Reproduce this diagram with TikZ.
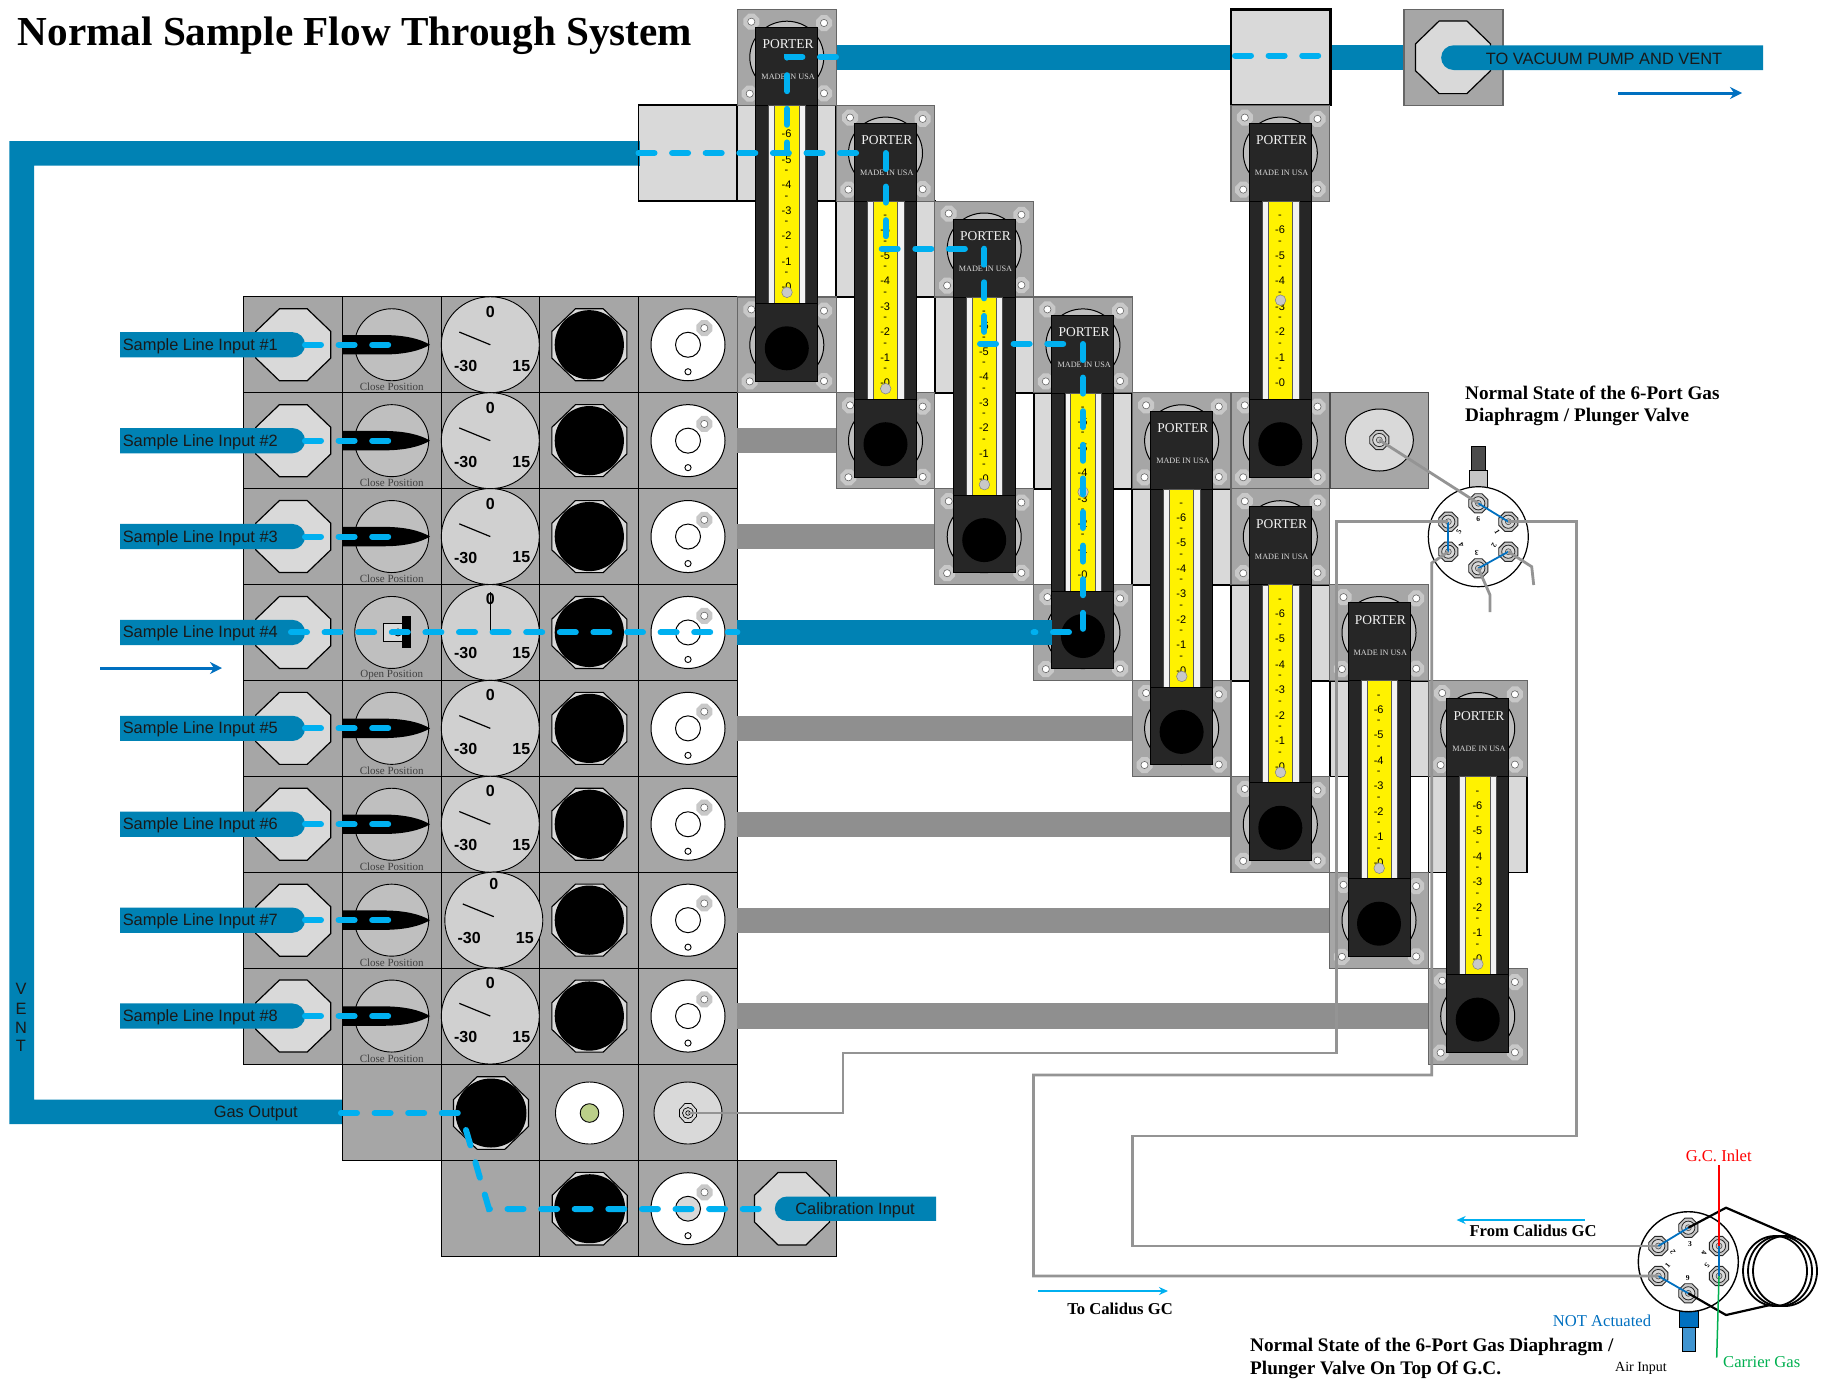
\documentclass[tikz,border=0pt]{standalone}
\usepackage{fontspec}
\setmainfont{Liberation Serif}
\setsansfont{Liberation Sans}
\usetikzlibrary{arrows.meta}
\definecolor{pipeblue}{HTML}{0082B4}
\definecolor{dashblue}{HTML}{00B0F0}
\definecolor{panelgrey}{HTML}{A6A6A6}
\definecolor{lightgrey}{HTML}{D9D9D9}
\definecolor{barcol}{HTML}{8F8F8F}
\definecolor{linegrey}{HTML}{949494}
\definecolor{bodydark}{HTML}{262626}
\definecolor{lineblue}{HTML}{0070C0}
\definecolor{knob}{HTML}{BFBFBF}
\definecolor{dialgrey}{HTML}{D0D0D0}
\definecolor{boltgrey}{HTML}{C8C8C8}
\definecolor{okgreen}{HTML}{00B050}
\definecolor{seedgreen}{HTML}{BBCF89}
\tikzset{
  cellbox/.style={fill=panelgrey,draw=black,line width=1pt},
  mpanel/.style={fill=panelgrey,draw=black!60,line width=1.1pt},
  lightbox/.style={fill=lightgrey,draw=black,line width=1.8pt},
  flow/.style={draw=dashblue,line width=6pt,line cap=round,line join=miter,dash pattern=on 16pt off 17.6pt},
  pipefill/.style={fill=pipeblue,draw=none},
  tubeline/.style={draw=linegrey,line width=2.8pt,line join=miter},
  conn/.style={draw=lineblue,line width=1.8pt},
  sflabel/.style={inner sep=0pt,yshift=-1.2pt,font=\sffamily\fontsize{16.4}{18}\selectfont,text=black!90},
  dialtext/.style={inner sep=0pt,font=\sffamily\bfseries\fontsize{16}{18}\selectfont},
  postext/.style={inner sep=0pt,text=black!75,font=\fontsize{11}{12}\selectfont},
  scaletext/.style={inner sep=0pt,yshift=-.8pt,font=\sffamily\fontsize{11}{12}\selectfont},
  boldtext/.style={inner sep=0pt,anchor=west,font=\bfseries\fontsize{19.2}{21}\selectfont},
  portnum/.style={inner sep=0pt,font=\bfseries\fontsize{7.5}{8}\selectfont},
}
% octagon: centre x, y, half width, half height
\newcommand{\octa}[5][]{%
  \pgfmathsetmacro\ox{#4*0.37}\pgfmathsetmacro\oy{#5*0.37}%
  \path[#1] ({#2-\ox},{#3-#5}) -- ({#2+\ox},{#3-#5}) -- ({#2+#4},{#3-\oy}) -- ({#2+#4},{#3+\oy}) -- ({#2+\ox},{#3+#5}) -- ({#2-\ox},{#3+#5}) -- ({#2-#4},{#3+\oy}) -- ({#2-#4},{#3-\oy}) -- cycle;}
\newcommand{\boltat}[2]{%
  \octa[fill=boltgrey]{#1}{#2}{8}{8}%
  \path[fill=white,draw=black!60,line width=.6pt] (#1,#2) circle[radius=3.6];}
\newcommand{\gasnut}[2]{%
  \octa[fill=boltgrey,draw=black!85,line width=.9pt]{#1}{#2}{9.6}{9.6}%
  \path[fill=lightgrey,draw=black!85,line width=.8pt] (#1,#2) circle[radius=6.6];%
  \path[fill=boltgrey,draw=black!70,line width=.6pt] (#1,#2) circle[radius=3];}
\newcommand{\plate}{%
  \path[fill=knob,draw=black,line width=1pt] (49.3,47.9) ellipse[x radius=37,y radius=36];%
  \boltat{13.8}{12.4}\boltat{86.5}{13.7}\boltat{12.2}{84.4}\boltat{86.5}{84}}
% id, left, top, ball position
\newcommand{\meter}[4]{%
\begin{scope}[shift={(#2,#3)}]
  \path[mpanel] (0,0) rectangle (98.7,95.9);
  \begin{scope}\plate\end{scope}
  \path[mpanel] (0,287.7) rectangle (98.7,383.6);
  \begin{scope}[shift={(0,287.7)}]\plate\end{scope}
  \path[fill=bodydark,draw=black,line width=.8pt] (18.2,18) rectangle (80.2,96);
  \path[fill=bodydark,draw=black,line width=.8pt] (18.2,96) rectangle (31.2,294);
  \path[fill=bodydark,draw=black,line width=.8pt] (67.8,96) rectangle (80.2,294);
  \path[fill=black!5,draw=black!70,line width=.5pt] (31.2,96) rectangle (67.8,294);
  \path[fill=yellow,draw=black!65,line width=.8pt] (37.2,96) rectangle (61.5,294);
  \path[fill=bodydark,draw=black,line width=.8pt] (18.2,294) rectangle (80.2,371.7);
  \path[fill=black] (49.3,339) circle[radius=22];
  \node[inner sep=0pt,text=white!95!black,font=\fontsize{13.5}{15}\selectfont] (por#1) at (50.6,35) {PORTER};
  \node[inner sep=0pt,text=white!85!black,font=\fontsize{8.2}{10}\selectfont] (mus#1) at (50.6,67.8) {MADE IN USA};
  \foreach \i in {0,...,6}{
    \pgfmathsetmacro\ya{111+25.5*\i}\pgfmathsetmacro\yb{124+25.5*\i}\pgfmathtruncatemacro\lab{6-\i}
    \node[scaletext] (tk#1x\i) at (49,\ya) {-};
    \node[scaletext] (lb#1x\i) at (49,\yb) {-\lab};
  }
  \path[fill=boltgrey,draw=black!50,line width=.5pt] (49.5,#4) circle[radius=5.3];
\end{scope}}
\begin{document}
\begin{tikzpicture}[x=1pt,y=-1pt]
\path[use as bounding box,fill=white] (0,0) rectangle (1827,1379);

% vent pipe
\path[pipefill] (9.3,141) -- (638.5,141) -- (638.5,165.5) -- (34,165.5) -- (34,1099.5) -- (342.4,1099.5) -- (342.4,1124) -- (9.3,1124) -- cycle;
\node[sflabel] (vV) at (21,987.3) {V};
\node[sflabel] (vE) at (21,1008) {E};
\node[sflabel] (vN) at (21,1026.7) {N};
\node[sflabel] (vT) at (21,1045) {T};
\node[sflabel] (gasout) at (255.8,1112.5) {Gas Output};

% rows
\foreach \k in {0,...,7}{
  \pgfmathsetmacro\yc{344.75+95.9*\k}
  \pgfmathtruncatemacro\n{\k+1}
  \pgfmathsetmacro\dx{\k==6?3.5:0}
  \pgfmathsetmacro\dy{\k==6?-3.5:0}
  \begin{scope}[shift={(0,\yc)}]
    \foreach \xa/\xb in {243.5/342.4,342.4/441,441/539.7,539.7/638.6,638.6/737.4}
      \path[cellbox] (\xa,-47.95) rectangle (\xb,47.95);
    \octa[fill=lightgrey,draw=black,line width=1.2pt]{293.3}{0}{37.5}{36}
    % valve knob
    \path[fill=knob,draw=black,line width=.9pt] (391.7,0) ellipse[x radius=37,y radius=36];
    \ifnum\k=3
      \path[fill=lightgrey,draw=black,line width=.9pt] (383.7,-9) rectangle (402,9);
      \path[fill=black] (402,-16) rectangle (411,16);
      \path[fill=lightgrey,draw=black,line width=.8pt] (398,0) circle[radius=3.5];
      \node[postext] (pos\n) at (391.7,42.2) {Open Position};
    \else
      \path[fill=black] (342.4,-9.7) -- (385,-9.7) .. controls (405,-9.5) and (420,-6) .. (430,0) .. controls (420,6) and (405,9.5) .. (385,9.7) -- (342.4,9.7) -- cycle;
      \node[postext] (pos\n) at (391.7,42.2) {Close Position};
    \fi
    % gauge
    \path[fill=dialgrey,draw=black,line width=.9pt] ({490.3+\dx},0) ellipse[x radius=49,y radius=48];
    \node[dialtext] (dz\n) at ({490.3+\dx},{-33+\dy}) {0};
    \node[dialtext] (dm\n) at ({465.7+\dx},{21+\dy}) {-30};
    \node[dialtext] (dp\n) at ({521.3+\dx},{21+\dy}) {15};
    \ifnum\k=3
      \draw[line width=1.2pt] (490.3,0) -- (490.3,-40);
    \else
      \draw[line width=1.2pt] ({490.3+\dx},{\dy}) -- ({459.3+\dx},{-12.7+\dy});
    \fi
    % black filter
    \octa[fill=lightgrey,draw=black,line width=1.1pt]{589.3}{0}{37.5}{36}
    \path[fill=black] (589.3,0) circle[radius=34.6];
    % white valve
    \path[fill=white,draw=black,line width=1pt] (688,0) ellipse[x radius=37,y radius=36];
    \path[fill=white,draw=black,line width=1pt] (688,0) circle[radius=12.5];
    \path[fill=white,draw=black,line width=.9pt] (688,27) circle[radius=3.1];
    \boltat{704.3}{-16.7}
    % input label
    \path[pipefill] (120,-12.6) -- (292.5,-12.6) arc[start angle=-90,end angle=90,radius=12.6] -- (120,12.6) -- cycle;
    \node[sflabel,anchor=west] (inp\n) at (122.6,0) {Sample Line Input \#\n};
  \end{scope}
}

% grey bars
\foreach \k/\xe in {1/836.2,2/934.9,4/1132.3,5/1231,6/1329.7,7/1428.4}{
  \pgfmathsetmacro\yc{344.75+95.9*\k}
  \path[fill=barcol] (737.4,{\yc-12.6}) rectangle (\xe,{\yc+12.6});
}

% gas output row
\foreach \xa/\xb in {342.4/441,441/539.7,539.7/638.6,638.6/737.4}
  \path[cellbox] (\xa,1064) rectangle (\xb,1160);
\octa[fill=lightgrey,draw=black,line width=1.1pt]{491}{1113}{37.5}{36.3}
\path[fill=black] (491,1113) ellipse[x radius=35.5,y radius=34.5];
\path[fill=white,draw=black,line width=.9pt] (589.5,1113) ellipse[x radius=34,y radius=31];
\path[fill=seedgreen,draw=black,line width=.9pt] (589.5,1113) circle[radius=9.3];
\path[fill=lightgrey,draw=black,line width=.9pt] (688,1113) ellipse[x radius=34,y radius=31];
\octa[draw=black,line width=.7pt]{688}{1113}{8.5}{9.5}
\path[draw=black,line width=.7pt] (688,1113) circle[radius=5.5];
\path[draw=black,line width=.7pt] (688,1113) circle[radius=2.3];

% calibration row
\foreach \xa/\xb in {441/539.7,539.7/638.6,638.6/737.4,737.4/836.4}
  \path[cellbox] (\xa,1160) rectangle (\xb,1256.5);
\octa[fill=lightgrey,draw=black,line width=1.1pt]{589.7}{1208.7}{37.5}{36.3}
\path[fill=black] (589.7,1208.7) ellipse[x radius=35.5,y radius=34.5];
\path[fill=white,draw=black,line width=1pt] (688,1208.7) ellipse[x radius=37,y radius=36];
\path[fill=lightgrey,draw=black,line width=1pt] (688,1208.7) ellipse[x radius=12.5,y radius=12.4];
\path[fill=white,draw=black,line width=.9pt] (688,1235.7) circle[radius=3.1];
\boltat{704.5}{1192.3}
\octa[fill=lightgrey,draw=black,line width=1.2pt]{792}{1208.7}{37.5}{36.3}
\path[pipefill] (936,1196.5) -- (787,1196.5) arc[start angle=270,end angle=90,radius=12.2] -- (936,1220.9) -- cycle;
\node[sflabel] (calib) at (855,1209.5) {Calibration Input};

% manifold blocks behind meters
\path[lightbox] (638.5,105.2) rectangle (737.2,201.1);
\path[lightbox] (737.5,105.2) rectangle (836.2,201.1);
\foreach \xa/\ya in {836.2/201.1,934.9/297,1033.6/392.9,1132.3/488.8,1231/584.7,1329.7/680.6,1428.4/776.5}
  \path[lightbox] (\xa,\ya) rectangle ({\xa+98.7},{\ya+95.9});
\path[pipefill] (638.5,141) rectangle (639.5,165.5);

% top line to vacuum
\path[pipefill] (836.2,45.3) rectangle (1404,70);
\path[fill=panelgrey,draw=black!60,line width=1.1pt] (1404,9.3) rectangle (1503,105.2);
\octa[fill=lightgrey,draw=black,line width=1.2pt]{1453}{57.3}{37.5}{36.3}
\path[pipefill] (1763,45.3) -- (1453.5,45.3) arc[start angle=270,end angle=90,radius=12.35] -- (1763,70) -- cycle;
\node[sflabel] (vac) at (1604,58) {TO VACUUM PUMP AND VENT};
\path[fill=lightgrey,draw=black,line width=2.6pt] (1231,9.5) rectangle (1330.6,105);

% meters
\meter{a}{737.5}{9.3}{283}
\meter{b}{836.2}{105.2}{283.5}
\meter{c}{934.9}{201.1}{283.5}
\meter{d}{1033.6}{297}{195}
\meter{e}{1132.3}{392.9}{283.5}
\meter{f}{1231}{105.2}{195}
\meter{g}{1231}{488.8}{283.5}
\meter{h}{1329.7}{584.7}{283.5}
\meter{i}{1428.4}{680.6}{283.5}

% open sample pipe
\path[pipefill] (737.4,619.8) rectangle (1052,645);

% panel and first 6-port valve
\path[fill=panelgrey,draw=black!70,line width=1.1pt] (1330,392.7) rectangle (1428.7,488.5);
\path[fill=lightgrey,draw=black,line width=1pt] (1379.3,440) ellipse[x radius=34,y radius=31];
\gasnut{1379.3}{440}

\path[fill=lightgrey!60!panelgrey,draw=black,line width=.9pt] (1469,470.7) rectangle (1487.7,489.5);
\path[fill=black!70,draw=black,line width=.8pt] (1471.7,446) rectangle (1485,470.7);
\path[fill=white,draw=black,line width=1.2pt] (1478.3,536.7) circle[radius=50];
\gasnut{1478.3}{503.3}\gasnut{1508.3}{521.7}\gasnut{1508.3}{551.7}\gasnut{1478.3}{568.3}\gasnut{1448.3}{551.7}\gasnut{1448.3}{521.7}
\node[portnum] (pa6) at (1478.3,519.3) {6};
\node[portnum,rotate=-60] (pa1) at (1497.3,532.3) {1};
\node[portnum,rotate=-120] (pa2) at (1494,545.7) {2};
\node[portnum,rotate=180] (pa3) at (1476.7,553.3) {3};
\node[portnum,rotate=120] (pa4) at (1461.3,545) {4};
\node[portnum,rotate=60] (pa5) at (1459,531.7) {5};
\draw[conn] (1478.3,503.3) -- (1508.3,521.7);
\draw[conn] (1508.3,551.7) -- (1478.3,568.3);
\draw[conn] (1448.3,521.7) -- (1448.3,551.7);

% second 6-port valve
\foreach \dx in {-5,0,5}
  \path[draw=black,line width=1.8pt] ({1780+\dx},1271) ellipse[x radius=32,y radius=35];
\path[fill=lineblue,draw=black,line width=.9pt] (1679.3,1309.5) rectangle (1698,1327.3);
\path[fill=lineblue!75!white,draw=black,line width=.9pt] (1682.3,1327.3) rectangle (1695,1351.7);
\path[fill=white,draw=black,line width=1.4pt] (1688.3,1261.7) circle[radius=50];
\gasnut{1688.3}{1227.7}\gasnut{1719}{1246}\gasnut{1719}{1276}\gasnut{1688.3}{1293.3}\gasnut{1658.3}{1276}\gasnut{1658.3}{1246}
\node[portnum] (pb3) at (1690,1244) {3};
\node[portnum,rotate=-100] (pb4) at (1704.3,1253) {4};
\node[portnum,rotate=-130] (pb5) at (1707,1265.7) {5};
\node[portnum] (pb9) at (1687.7,1278) {9};
\node[portnum,rotate=50] (pb1) at (1667.7,1265.3) {1};
\node[portnum,rotate=120] (pb2) at (1672.7,1252.3) {2};
\draw[conn] (1658.3,1246) -- (1688.3,1227.7);
\draw[conn] (1658.3,1276) -- (1688.3,1293.3);
\draw[conn] (1719,1246) -- (1719,1276);
\draw[line width=2.2pt,line join=miter] (1688.3,1227.7) -- (1726,1207.7) -- (1796,1238);
\draw[line width=2.2pt,line join=miter] (1688.3,1293.3) -- (1726,1315) -- (1770,1305);
\draw[red,line width=1.5pt] (1719,1165) -- (1719,1246);
\draw[okgreen,line width=1.5pt] (1719,1276) -- (1716.7,1357.5);

% grey sample tubing
\draw[tubeline] (1379.3,440) -- (1478.3,503.3);
\draw[tubeline] (1448.3,521.7) -- (1336.5,521.7) -- (1336.5,1053) -- (843,1053) -- (843,1113) -- (688,1113);
\draw[tubeline] (1448.3,551.7) -- (1431.7,563) -- (1431.7,1075) -- (1033.5,1075) -- (1033.5,1276) -- (1658.3,1276);
\draw[tubeline] (1508.3,521.7) -- (1576.7,521.7) -- (1576.7,1136) -- (1132.5,1136) -- (1132.5,1246) -- (1658.3,1246);
\draw[tubeline] (1478.3,568.3) -- (1490,595) -- (1490,612);
\draw[tubeline] (1508.3,551.7) -- (1531.7,566.7) -- (1533.7,585);

% flow dashes
\draw[flow] (1235,55.5) -- (1328,55.5);
\draw[flow] (836,57) -- (787,57) -- (787,153);
\draw[flow] (638.5,153) -- (871.7,153);
\draw[flow] (885.7,153) -- (885.7,249);
\draw[flow] (881.7,248.7) -- (970,248.7);
\draw[flow] (984.3,248.7) -- (984.3,340);
\draw[flow] (980,343.7) -- (1068,343.7);
\draw[flow] (1083,344) -- (1083,632.4) -- (1033.6,632.4);
\foreach \k in {0,1,2,4,5,6,7}{
  \pgfmathsetmacro\yc{344.75+95.9*\k}
  \draw[flow] (305,\yc) -- (392,\yc);
}
\draw[flow] (291,632.4) -- (737.4,632.4);
\draw[flow] (341,1113) -- (465,1113);
\draw[flow] (466,1130) -- (489,1209) -- (776,1209);

% flow arrows
\draw[lineblue,line width=3pt,-{Stealth[length=12pt,width=12pt]}] (100,668) -- (222,668);
\draw[lineblue,line width=3pt,-{Stealth[length=12pt,width=12pt]}] (1618,93) -- (1742,93);
\draw[dashblue,line width=2pt,-{Stealth[length=9pt,width=8pt]}] (1584.6,1220) -- (1456.6,1220);
\draw[dashblue,line width=2pt,-{Stealth[length=9pt,width=8pt]}] (1038,1291) -- (1168,1291);

% texts
\node[inner sep=0pt,anchor=west,font=\bfseries\fontsize{41.2}{44}\selectfont] (title) at (17.5,36) {Normal Sample Flow Through System};
\node[boldtext] (na1) at (1465,393) {Normal State of the 6-Port Gas};
\node[boldtext] (na2) at (1465,416.5) {Diaphragm / Plunger Valve};
\node[boldtext] (nb1) at (1250,1346.5) {Normal State of the 6-Port Gas Diaphragm /};
\node[boldtext] (nb2) at (1250,1369.5) {Plunger Valve On Top Of G.C.};
\node[inner sep=0pt,font=\bfseries\fontsize{16.6}{18}\selectfont] (from) at (1533,1231) {From Calidus GC};
\node[inner sep=0pt,font=\bfseries\fontsize{16.6}{18}\selectfont] (to) at (1120,1309) {To Calidus GC};
\node[inner sep=0pt,red,font=\fontsize{16.6}{18}\selectfont] (inlet) at (1718.7,1156) {G.C. Inlet};
\node[inner sep=0pt,text=lineblue,font=\fontsize{16.6}{18}\selectfont] (notact) at (1602,1321) {NOT Actuated};
\node[inner sep=0pt,text=okgreen,font=\fontsize{16.6}{18}\selectfont] (carrier) at (1761.7,1362.5) {Carrier Gas};
\node[inner sep=0pt,font=\fontsize{14}{15}\selectfont] (air) at (1641,1368) {Air Input};
\end{tikzpicture}
\end{document}
